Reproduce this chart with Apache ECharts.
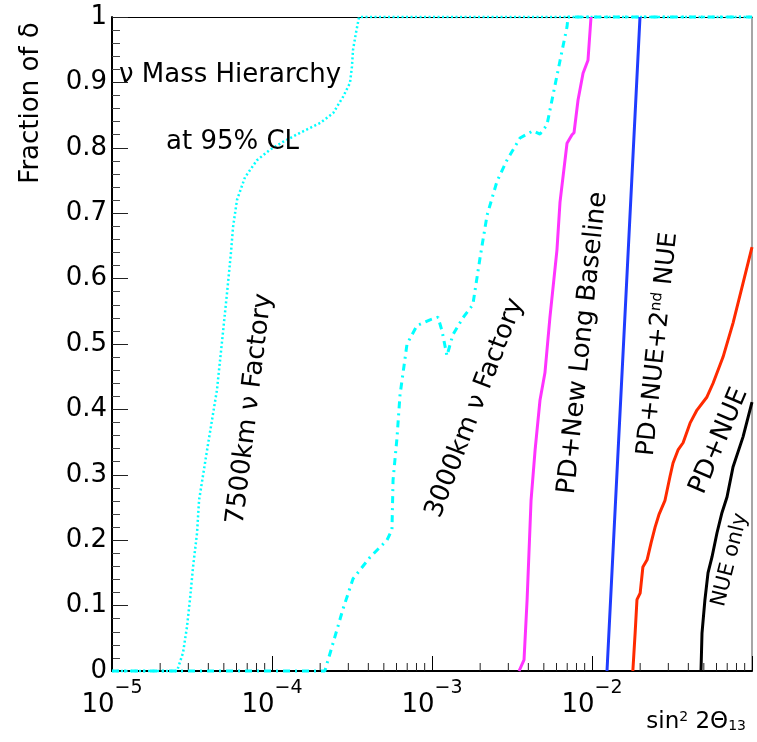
<!DOCTYPE html>
<html><head><meta charset="utf-8">
<script src="https://cdn.jsdelivr.net/npm/echarts@6/dist/echarts.min.js"></script>
<style>html,body{margin:0;padding:0;background:#fff}#c{width:757px;height:742px}</style>
</head><body><div id="c"></div>
<script>
const FONT = 'DejaVu Sans';

// x: sin^2 2theta13, y: fraction of delta
const factory7500 = [[1e-5,0],[2.55e-5,0],[2.78e-5,0.028],[2.94e-5,0.067],[3.07e-5,0.109],[3.21e-5,0.159],
  [3.40e-5,0.211],[3.50e-5,0.261],[3.93e-5,0.338],[4.53e-5,0.430],[4.94e-5,0.518],[5.31e-5,0.593],
  [5.55e-5,0.642],[5.71e-5,0.679],[6.04e-5,0.720],[6.78e-5,0.755],[8.05e-5,0.781],[9.72e-5,0.797],
  [1.17e-4,0.809],[1.50e-4,0.823],[2.0e-4,0.838],[2.41e-4,0.853],[2.78e-4,0.878],[3.07e-4,0.899],
  [3.16e-4,0.924],[3.21e-4,0.950],[3.35e-4,0.976],[3.50e-4,1],[0.1,1]];

const factory3000 = [[1e-5,0],[2.14e-4,0],[2.41e-4,0.043],[2.78e-4,0.095],[3.21e-4,0.141],[4.10e-4,0.174],
  [5.23e-4,0.200],[5.62e-4,0.216],[5.71e-4,0.292],[6.04e-4,0.356],[6.31e-4,0.422],[6.98e-4,0.500],
  [8.05e-4,0.528],[9.72e-4,0.537],[1.09e-3,0.541],[1.155e-3,0.520],[1.24e-3,0.482],[1.35e-3,0.514],
  [1.56e-3,0.540],[1.80e-3,0.560],[2.0e-3,0.633],[2.21e-3,0.697],[2.55e-3,0.749],[2.94e-3,0.781],
  [3.55e-3,0.815],[4.28e-3,0.826],[4.73e-3,0.821],[5.23e-3,0.835],[5.71e-3,0.881],[6.31e-3,0.933],
  [6.98e-3,0.985],[7.08e-3,1],[0.1,1]];

const pdNewLongBaseline = [[3.50e-3,0],[3.76e-3,0.017],[3.93e-3,0.109],[4.16e-3,0.261],[4.41e-3,0.338],
  [4.73e-3,0.414],[5.08e-3,0.456],[5.46e-3,0.541],[6.04e-3,0.644],[6.31e-3,0.717],[6.98e-3,0.807],
  [7.50e-3,0.820],[7.72e-3,0.823],[8.18e-3,0.873],[8.79e-3,0.914],[9.44e-3,0.934],[9.86e-3,1]];

const pdNue2ndNue = [[1.241e-2,0],[1.397e-2,0.25],[1.574e-2,0.5],[1.772e-2,0.75],[1.995e-2,1]];

const pdNue = [[1.80e-2,0],[1.86e-2,0.058],[1.91e-2,0.109],[2.0e-2,0.119],[2.08e-2,0.159],[2.21e-2,0.170],
  [2.34e-2,0.196],[2.48e-2,0.220],[2.62e-2,0.239],[2.86e-2,0.261],[3.07e-2,0.297],[3.21e-2,0.318],
  [3.45e-2,0.338],[3.71e-2,0.349],[4.10e-2,0.379],[4.53e-2,0.399],[5.23e-2,0.419],[5.71e-2,0.440],
  [6.59e-2,0.480],[7.61e-2,0.532],[8.79e-2,0.593],[0.1,0.648]];

const nueOnly = [[4.80e-2,0],[4.87e-2,0.058],[5.08e-2,0.109],[5.31e-2,0.150],[5.62e-2,0.174],
  [6.04e-2,0.211],[6.49e-2,0.242],[6.98e-2,0.266],[7.61e-2,0.312],[8.79e-2,0.358],[0.1,0.411]];

const xMinorTicks = [2e-5,3e-5,4e-5,5e-5,6e-5,7e-5,8e-5,9e-5,
  2e-4,3e-4,4e-4,5e-4,6e-4,7e-4,8e-4,9e-4,
  2e-3,3e-3,4e-3,5e-3,6e-3,7e-3,8e-3,9e-3,
  2e-2,3e-2,4e-2,5e-2,6e-2,7e-2,8e-2,9e-2];
const xLabelExponents = [-5,-4,-3,-2];

const chart = echarts.init(document.getElementById('c'), null, {renderer:'canvas'});

const deg = d => d*Math.PI/180;
function note(text, x, y, rot, size, align) {
  return {type:'text', x:x, y:y, rotation:deg(rot), z:10,
    style:{text:text, fill:'#000', fontFamily:FONT, fontSize:size,
      align:align||'center', verticalAlign:'middle',
      rich:{s:{fontSize:Math.round(size*0.6), fontFamily:FONT, padding:[0,0,Math.round(size*0.45),0]},
            d:{fontSize:Math.round(size*0.62), fontFamily:FONT, padding:[Math.round(size*0.35),0,0,0]}}}};
}

const option = {
  animation:false,
  backgroundColor:'#fff',
  grid:{left:112, right:5, top:17, bottom:71, containLabel:false, outerBoundsMode:'none'},
  xAxis:[{
    type:'log', logBase:10, min:1e-5, max:0.1, position:'bottom',
    axisLine:{show:true, onZero:false, lineStyle:{color:'#000', width:2}},
    axisTick:{show:true, inside:true, length:15, lineStyle:{color:'#000', width:1}},
    splitLine:{show:false}, minorTick:{show:false},
    axisLabel:{show:true, margin:15, color:'#000', fontFamily:FONT, showMaxLabel:false,
      formatter:function(v){
        const e = Math.round(Math.log10(v));
        if (xLabelExponents.indexOf(e) < 0) return '';
        return '{b|10}{s|\u2212' + (-e) + '}';
      },
      rich:{b:{fontSize:26, fontFamily:FONT, color:'#000', padding:[13,0,0,0], lineHeight:26},
            s:{fontSize:19, fontFamily:FONT, color:'#000', padding:[0,0,21,0], lineHeight:21}}}
  },{
    type:'log', logBase:10, min:1e-5, max:0.1, position:'top',
    axisLine:{show:true, onZero:false, lineStyle:{color:'#000', width:1.2}},
    axisTick:{show:false}, axisLabel:{show:false}, splitLine:{show:false}
  }],
  yAxis:[{
    type:'value', min:0, max:1, interval:0.1, position:'left',
    axisLine:{show:true, onZero:false, lineStyle:{color:'#000', width:2}},
    axisTick:{show:true, inside:true, length:16, lineStyle:{color:'#222', width:1}},
    minorTick:{show:true, splitNumber:5, length:8, lineStyle:{color:'#444', width:1}},
    splitLine:{show:false},
    axisLabel:{margin:5, color:'#000', fontSize:26, fontFamily:FONT}
  },{
    type:'value', min:0, max:1, position:'right',
    axisLine:{show:true, onZero:false, lineStyle:{color:'#888', width:1.5}},
    axisTick:{show:false}, axisLabel:{show:false}, splitLine:{show:false}
  }],
  series:[
    {type:'custom', silent:true, z:3, clip:false,
      data:xMinorTicks.map(v=>[v,0]),
      renderItem:function(params, api){
        const p = api.coord([api.value(0), 0]);
        return {type:'line', shape:{x1:p[0], y1:p[1], x2:p[0], y2:p[1]-8}, style:{stroke:'#222', lineWidth:1}};
      }},
    {name:'7500km', type:'line', data:factory7500, showSymbol:false, clip:false, z:4,
      lineStyle:{color:'#00ffff', width:2.5, type:[2,2.5]}},
    {name:'3000km', type:'line', data:factory3000, showSymbol:false, clip:false, z:4,
      lineStyle:{color:'#00ffff', width:3, type:[7,5,2,5]}},
    {name:'PD+New Long Baseline', type:'line', data:pdNewLongBaseline, showSymbol:false, z:5,
      lineStyle:{color:'#ff33ff', width:3}},
    {name:'PD+NUE+2nd NUE', type:'line', data:pdNue2ndNue, showSymbol:false, z:5,
      lineStyle:{color:'#1f3cff', width:3}},
    {name:'PD+NUE', type:'line', data:pdNue, showSymbol:false, z:5,
      lineStyle:{color:'#ff2a00', width:3}},
    {name:'NUE only', type:'line', data:nueOnly, showSymbol:false, z:5,
      lineStyle:{color:'#000000', width:3}}
  ],
  graphic:[
    note('Fraction of \u03b4', 31, 103, 90, 26),
    note('\u03bd Mass Hierarchy', 119, 75, 0, 26, 'left'),
    note('at 95% CL', 166, 142, 0, 26, 'left'),
    note('7500km \u03bd Factory', 250, 409, 83, 26),
    note('3000km \u03bd Factory', 475, 408, 69, 26),
    note('PD+New Long Baseline', 583, 343, 84, 26),
    note('PD+NUE+2{s|nd} NUE', 658, 344, 84, 25),
    note('PD+NUE', 719, 441, 67, 26),
    note('NUE only', 730, 560, 76, 21),
    note('sin{s|2} 2\u0398{d|13}', 746, 722, 0, 23, 'right')
  ]
};
chart.setOption(option);
</script></body></html>
